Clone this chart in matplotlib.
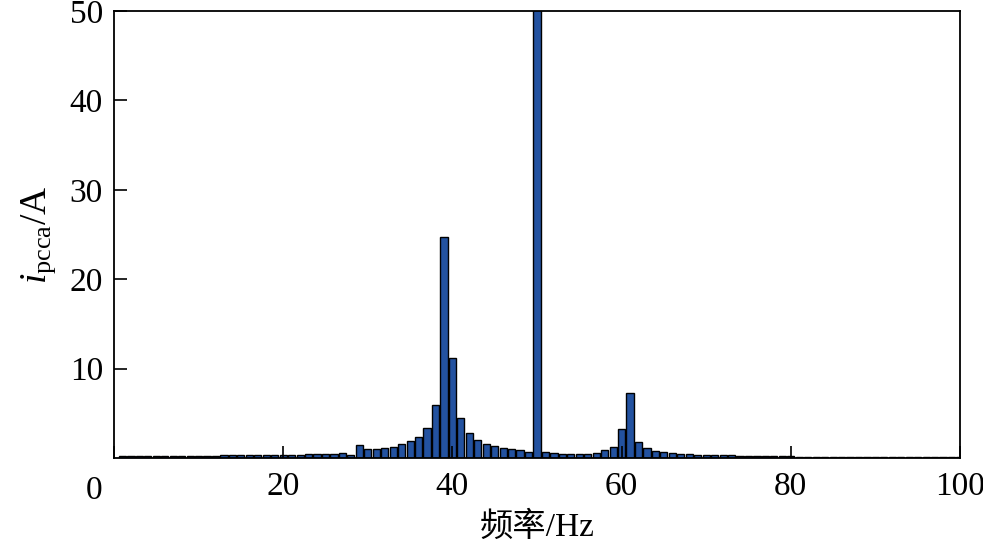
import matplotlib
matplotlib.use("Agg")
import matplotlib.pyplot as plt
import numpy as np

# Data: harmonic spectrum of i_pcca (A) at 1 Hz bins
freqs = list(range(1, 101))
amps = [
    0.25, 0.25, 0.25, 0.25, 0.25, 0.25, 0.25, 0.25, 0.25, 0.25,   # 1-10
    0.25, 0.25, 0.28, 0.3, 0.3, 0.3, 0.3, 0.32, 0.32, 0.33,       # 11-20
    0.35, 0.35, 0.4, 0.4, 0.42, 0.5, 0.55, 0.35, 1.4, 1.0,        # 21-30
    1.0, 1.15, 1.27, 1.53, 1.87, 2.39, 3.4, 5.9, 24.7, 11.23,     # 31-40
    4.5, 2.84, 2.05, 1.57, 1.3, 1.08, 0.97, 0.86, 0.71, 100.0,    # 41-50
    0.7, 0.55, 0.5, 0.45, 0.45, 0.5, 0.55, 0.86, 1.27, 3.25,      # 51-60
    7.3, 1.83, 1.12, 0.78, 0.63, 0.55, 0.45, 0.4, 0.37, 0.33,     # 61-70
    0.32, 0.3, 0.3, 0.26, 0.24, 0.22, 0.2, 0.2, 0.18, 0.17,       # 71-80
    0.15, 0.14, 0.13, 0.12, 0.12, 0.11, 0.11, 0.1, 0.1, 0.1,      # 81-90
    0.1, 0.1, 0.1, 0.1, 0.1, 0.1, 0.1, 0.1, 0.1, 0.1,             # 91-100
]
xticks = [0, 20, 40, 60, 80, 100]
xticklabels = ["", "20", "40", "60", "80", "100"]
yticks = [10, 20, 30, 40, 50]

plt.rcParams['mathtext.fontset'] = 'custom'
plt.rcParams['mathtext.rm'] = 'Liberation Serif'
plt.rcParams['mathtext.it'] = 'Liberation Serif:italic'
plt.rcParams['font.family'] = ['Liberation Serif', 'Noto Sans CJK SC']

fig = plt.figure(figsize=(9.83, 5.5), dpi=100)
ax = fig.add_axes([114/983, 1-458/550, (960-114)/983, (458-11)/550])

ax.bar(freqs, amps, width=0.85, color='#2352A0', edgecolor='black', linewidth=1.0)

ax.set_xlim(0, 100)
ax.set_ylim(0, 50)
ax.set_xticks(xticks)
ax.set_xticklabels(xticklabels)
ax.set_yticks(yticks)
ax.tick_params(direction='in', length=9, width=1.2, labelsize=24, pad=8)
ax.tick_params(axis='x', pad=10)
for s in ax.spines.values():
    s.set_linewidth(1.3)

# origin label
ax.text(94/983, 1-491/550, "0", transform=fig.transFigure, ha='center', va='center', fontsize=24)

ax.set_xlabel("频率/Hz", fontsize=24, labelpad=7)
ax.set_ylabel(r"$i_{\rm pcca}$/A", fontsize=27, labelpad=8)

fig.savefig("out.png", dpi=100)
